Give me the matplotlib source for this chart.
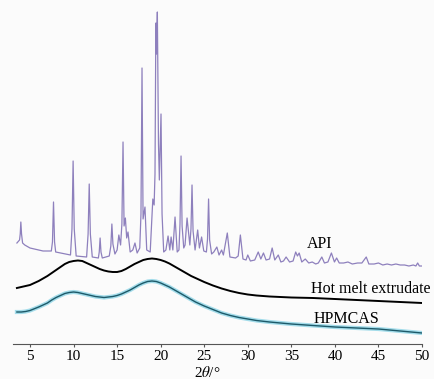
import numpy as np
import matplotlib
matplotlib.use('Agg')
import matplotlib.pyplot as plt

plt.rcParams['font.family'] = ['Liberation Serif', 'DejaVu Serif']
plt.rcParams['mathtext.fontset'] = 'stix'

# API pattern, (2theta, intensity)
api_2theta = [3.5, 3.8, 3.88, 3.95, 4.03, 4.15, 4.4, 5.0, 6.5, 7.45, 7.58, 7.7, 7.82, 7.95,
              9.65, 9.82, 9.95, 10.08, 10.3, 11.5, 11.67, 11.8, 11.93, 12.15,
              12.85, 12.95, 13.05, 13.15, 13.3, 14.1, 14.28, 14.4, 14.52, 14.75,
              15.0, 15.2, 15.4, 15.55, 15.68, 15.8, 15.95, 16.1, 16.25, 16.5, 16.8, 17.05,
              17.3, 17.6, 17.74, 17.86, 17.98, 18.2, 18.4, 18.8, 19.1, 19.25, 19.35,
              19.45, 19.52, 19.62, 19.75, 19.85, 20.04, 20.16, 20.35, 20.6, 20.85, 21.05,
              21.2, 21.4, 21.65, 21.9, 22.1, 22.22, 22.34, 22.46, 22.65, 22.8, 23.03, 23.35,
              23.48, 23.6, 23.72, 23.95, 24.25, 24.45, 24.7, 24.95, 25.25, 25.38, 25.5,
              25.62, 25.85, 26.1, 26.45, 26.7, 27.0, 27.2, 27.65, 27.95, 28.6, 28.9, 29.15,
              29.45, 29.8, 30.0, 30.3, 30.8, 31.2, 31.5, 31.8, 32.1, 32.5, 32.8, 33.1, 33.5,
              33.8, 34.1, 34.4, 34.8, 35.2, 35.5, 35.7, 35.9, 36.2, 36.6, 37.0, 37.4, 37.8,
              38.1, 38.5, 38.8, 39.2, 39.6, 39.95, 40.2, 40.5, 41.0, 41.5, 42.0, 42.6, 43.1,
              43.6, 43.9, 44.5, 45.0, 45.5, 46.0, 46.5, 47.0, 47.5, 48.0, 48.5, 49.0, 49.3,
              49.5, 49.7, 50.0]
api_int = [101, 104, 110, 122, 110, 101, 99, 96, 93, 93, 102, 142, 102, 92,
           89, 115, 183, 115, 88, 87, 110, 160, 110, 87,
           86, 92, 106, 92, 86, 88, 98, 120, 100, 90,
           94, 109, 99, 120, 202, 118, 126, 106, 112, 92, 94, 101,
           91, 96, 130, 276, 125, 137, 94, 92, 145, 139, 170,
           321, 290, 332, 200, 164, 230, 130, 92, 94, 108, 94,
           107, 94, 127, 92, 94, 120, 188, 118, 96, 99, 126, 99,
           115, 159, 113, 94, 114, 96, 107, 93, 92, 105, 145,
           104, 90, 92, 97, 89, 94, 89, 111, 87, 86, 88, 109,
           85, 84, 89, 83, 84, 92, 85, 91, 84, 85, 96, 84, 89,
           82, 83, 87, 82, 83, 92, 88, 91, 82, 85, 81, 82, 80,
           81, 87, 81, 82, 91, 82, 86, 81, 81, 82, 80, 81, 81,
           87, 80, 80, 81, 79, 80, 79, 80, 79, 79, 78, 79, 78,
           81, 78, 78]

# hot melt extrudate
hme_2theta = [3.5, 4, 5, 6, 7, 7.5, 8, 8.5, 9, 9.5, 10, 10.5, 11, 11.5, 12, 12.5, 13, 13.5,
              14, 14.5, 15, 15.5, 16, 16.5, 17, 17.5, 18, 18.5, 19, 19.5, 20, 20.5, 21,
              21.5, 22, 22.5, 23, 23.5, 24, 24.5, 25, 26, 27, 28, 29, 30, 31, 32.5, 35,
              37.5, 40, 42.5, 45, 47.5, 50]
hme_int = [56, 57, 59, 63, 68, 71, 74, 77, 80, 82, 83, 83.5, 83, 81, 79, 77, 75, 73.5,
           72.5, 72, 72, 73, 75, 77.5, 80, 82, 84, 85, 85.5, 85, 84, 82.5, 80.5,
           78, 75.5, 73, 70.5, 68, 66, 64, 62, 58.5, 55.5, 53, 51, 49.5, 48.5, 47.5, 46.5,
           46, 45, 44, 43, 42, 41]

# HPMCAS
hpm_2theta = [3.5, 4, 4.5, 5, 6, 7, 7.5, 8, 8.5, 9, 9.5, 10, 10.5, 11, 11.5, 12, 12.5, 13,
              13.5, 14, 14.5, 15, 15.5, 16, 16.5, 17, 17.5, 18, 18.5, 19, 19.5, 20, 20.5,
              21, 21.5, 22, 22.5, 23, 23.5, 24, 24.5, 25, 26, 27, 28, 29, 30, 31, 32.5,
              35, 37.5, 40, 42.5, 45, 47.5, 50]
hpm_int = [32, 32, 32.5, 33.5, 37, 41, 44, 46.5, 48.5, 50.5, 51.5, 52, 51.5, 50.5, 49.5, 48.5, 47.5, 47,
           46.5, 47, 47.5, 48.5, 50, 52, 54, 56.5, 59, 61, 62.5, 63, 62.5, 61, 59,
           57, 54.5, 52, 49.5, 47, 44.5, 42, 40, 38, 34.5, 31, 28.5, 26.5, 25, 23.5, 22,
           20, 18.5, 17, 16, 15, 13, 11]

xticks = [5, 10, 15, 20, 25, 30, 35, 40, 45, 50]

fig = plt.figure(figsize=(4.34, 3.79), dpi=100, facecolor='#fbfbfb')
ax = fig.add_axes([13/434, 35/379, 409/434, 344/379])
ax.set_facecolor('#fbfbfb')

ax.plot(api_2theta, api_int, color='#8e80bd', lw=0.9)
ax.plot(hme_2theta, hme_int, color='black', lw=1.4)
ax.plot(hpm_2theta, hpm_int, color='#a3dcea', lw=3.0)
ax.plot(hpm_2theta, hpm_int, color='#1d5a6a', lw=1.0)

ax.text(38.3, 96, 'API', fontsize=11.5, ha='center', va='baseline')
ax.text(37.3, 51, 'Hot melt extrudate', fontsize=11.5, ha='left', va='baseline')
ax.text(37.5, 21, 'HPMCAS', fontsize=11.5, ha='left', va='baseline')

ax.set_xlim(3.05, 50)
ax.set_ylim(0, 344)
ax.set_xticks(xticks)
ax.set_yticks([])
for s in ['top', 'left', 'right']:
    ax.spines[s].set_visible(False)
ax.spines['bottom'].set_color('#555555')
ax.tick_params(axis='x', direction='out', length=2.5, width=0.8, color='#555555',
               labelsize=11, pad=1.5)

fig.text(207/434, 2/379, r'2$\theta$/°', fontsize=11, ha='center', va='baseline')

fig.savefig('out.png', dpi=100, facecolor=fig.get_facecolor())
